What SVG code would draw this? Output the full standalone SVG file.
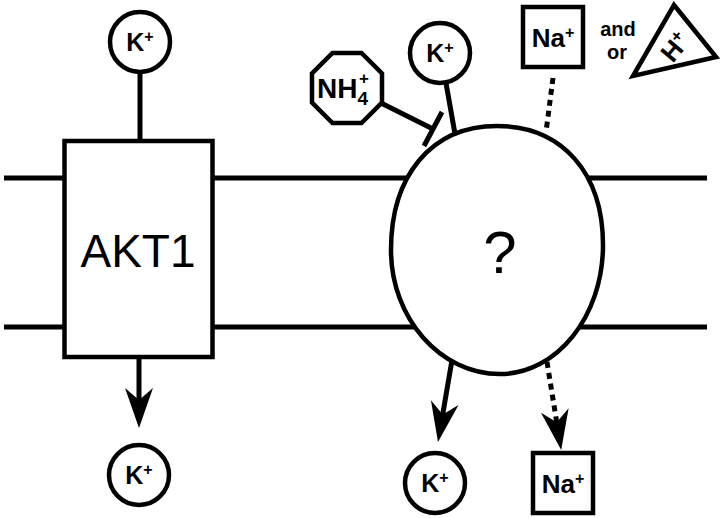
<svg xmlns="http://www.w3.org/2000/svg" width="720" height="518" viewBox="0 0 720 518">
<style>
.ln{stroke:#000;stroke-width:5;fill:none}
.shape{stroke:#000;stroke-width:4.5;fill:#fff}
.ion{font-family:"Liberation Sans",Arial,sans-serif;font-weight:bold;fill:#000}
.big{font-family:"Liberation Sans",Arial,sans-serif;fill:#000}
</style>
<defs>
<marker id="arr" markerUnits="userSpaceOnUse" markerWidth="46" markerHeight="34" viewBox="-42 -17 46 34" refX="-25" refY="0" orient="auto">
<path d="M0,0 L-40,-14 L-28,0 L-40,14 Z" fill="#000"/>
</marker>
</defs>
<rect width="720" height="518" fill="#fff"/>
<g id="membrane">
<line class="ln" x1="4" y1="178" x2="707" y2="178"/>
<line class="ln" x1="4" y1="327" x2="707" y2="327"/>
</g>
<g id="connectors">
<line class="ln" x1="140" y1="72" x2="140" y2="141"/>
<line class="ln" x1="139" y1="357" x2="139" y2="403" marker-end="url(#arr)"/>
<line class="ln" x1="446" y1="83" x2="455" y2="134"/>
<line class="ln" x1="381" y1="103" x2="433" y2="129"/>
<line class="ln" x1="424" y1="146" x2="442" y2="112"/>
<line class="ln" x1="553" y1="78" x2="546" y2="132" stroke-dasharray="6 5"/>
<line class="ln" x1="452" y1="360" x2="442.2" y2="417.4" marker-end="url(#arr)"/>
<line class="ln" x1="547" y1="362" x2="557.2" y2="425.3" stroke-dasharray="6 5" marker-end="url(#arr)"/>
</g>
<g id="akt1">
<rect class="shape" x="64.5" y="141" width="148" height="216" stroke-width="5"/>
<text class="big" x="138" y="267" font-size="46" text-anchor="middle">AKT1</text>
</g>
<g id="unknown">
<path class="shape" stroke-width="5" d="M497,126 C563,126 603,174 603,245 C603,316 557,374 500,374 C440,374 391,318 391,250 C391,176 431,126 497,126 Z"/>
<text class="big" x="500" y="273" font-size="60" text-anchor="middle">?</text>
</g>
<g id="k-top-left">
<circle class="shape" cx="140" cy="42" r="30"/>
<text class="ion" x="140" y="51" font-size="25" text-anchor="middle">K<tspan font-size="16" dy="-9">+</tspan></text>
</g>
<g id="k-top-right">
<circle class="shape" cx="440" cy="53" r="30"/>
<text class="ion" x="440" y="62" font-size="25" text-anchor="middle">K<tspan font-size="16" dy="-9">+</tspan></text>
</g>
<g id="nh4">
<polygon class="shape" points="332.5,53 361.5,53 382,73.5 382,102.5 361.5,123 332.5,123 312,102.5 312,73.5"/>
<text class="ion" x="317" y="98" font-size="28">NH<tspan font-size="19" dy="7">4</tspan><tspan font-size="17" dx="-9" dy="-21">+</tspan></text>
</g>
<g id="na-top">
<rect class="shape" x="523" y="7" width="60" height="60"/>
<text class="ion" x="553" y="47" font-size="26" text-anchor="middle">Na<tspan font-size="16" dy="-9">+</tspan></text>
</g>
<g id="and-or">
<text class="ion" x="618" y="36" font-size="20" text-anchor="middle">and</text>
<text class="ion" x="617" y="59" font-size="20" text-anchor="middle">or</text>
</g>
<g id="h-ion">
<polygon class="shape" points="674,5 716,57 633,76"/>
<text class="ion" transform="translate(675,47) rotate(-50)" font-size="26" text-anchor="middle"><tspan y="9">H</tspan><tspan font-size="17" dy="-9">+</tspan></text>
</g>
<g id="k-bottom-left">
<circle class="shape" cx="139" cy="475" r="30"/>
<text class="ion" x="139" y="484" font-size="25" text-anchor="middle">K<tspan font-size="16" dy="-9">+</tspan></text>
</g>
<g id="k-bottom-right">
<circle class="shape" cx="435" cy="483" r="30"/>
<text class="ion" x="435" y="492" font-size="25" text-anchor="middle">K<tspan font-size="16" dy="-9">+</tspan></text>
</g>
<g id="na-bottom">
<rect class="shape" x="533" y="453" width="60" height="60"/>
<text class="ion" x="563" y="493" font-size="26" text-anchor="middle">Na<tspan font-size="16" dy="-9">+</tspan></text>
</g>
</svg>
